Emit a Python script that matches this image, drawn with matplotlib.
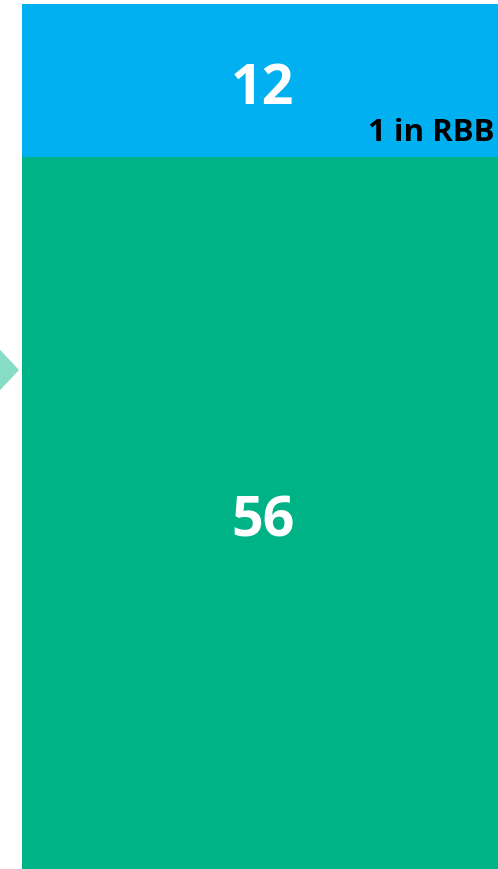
import matplotlib
matplotlib.use('Agg')
import matplotlib.pyplot as plt
from matplotlib.patches import Polygon

segments = ["Other", "Top"]
values = [56, 12]
colors = ["#00b386", "#00b0f0"]
note = "1 in RBB"

plt.rcParams['font.family'] = ['Open Sans', 'DejaVu Sans']

fig = plt.figure(figsize=(4.98, 8.69), dpi=100)
ax = fig.add_axes([22 / 498, 0, 476 / 498, 865 / 869])

bottom = 0
for name, val, col in zip(segments, values, colors):
    ax.bar(0, val, bottom=bottom, width=1, color=col, align='edge')
    # baseline placed a bit under the middle so the digits sit centred
    ax.annotate(str(val), (0.5, bottom + val / 2), xytext=(2, -17),
                textcoords='offset points', ha='center', va='baseline',
                color='white', fontsize=40, fontweight='bold')
    bottom += val

ax.text(0.992, 57.2, note, ha='right', va='baseline',
        color='black', fontsize=22.5, fontweight='bold')

ax.set_xlim(0, 1)
ax.set_ylim(0, sum(values))
ax.axis('off')

# partial chevron from the neighbouring panel
arr = fig.add_axes([0, 0, 22 / 498, 1])
arr.set_xlim(0, 22)
arr.set_ylim(869, 0)
arr.add_patch(Polygon([(-30, 337), (-12, 337), (19, 370), (-12, 403), (-30, 403)],
                      closed=True, color='#86dcc4', lw=0))
arr.axis('off')

fig.savefig('out.png', dpi=100)
